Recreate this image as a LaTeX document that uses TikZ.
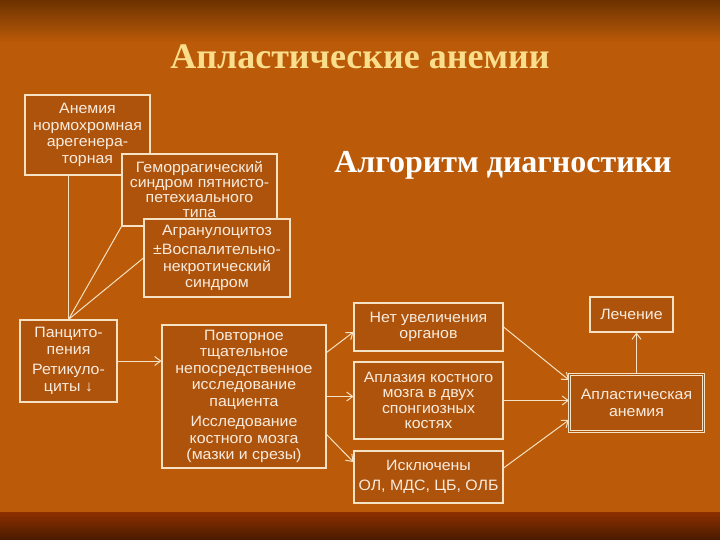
\documentclass[tikz,border=0pt]{standalone}
\usepackage{fontspec}
\usepackage{tikz}
\usetikzlibrary{arrows.meta}
\newfontfamily\boxfont[FakeStretch=1.06]{Liberation Sans}
\newfontfamily\headfont{Liberation Serif}

\definecolor{bgc}{RGB}{187,90,8}
\definecolor{boxc}{RGB}{174,83,12}
\definecolor{linec}{RGB}{245,226,196}
\definecolor{txtc}{RGB}{249,236,222}
\definecolor{titlec}{RGB}{250,222,140}

\tikzset{
  box/.style={draw=linec, fill=boxc, line width=1.1pt, inner sep=0pt, align=center,
    text=txtc, font=\boxfont\fontsize{15}{16.5}\selectfont},
  link/.style={draw=linec, line width=1pt},
  >={Straight Barb[length=6pt,width=9pt]}
}

\begin{document}
\begin{tikzpicture}[x=1pt,y=-1pt]
\useasboundingbox (0,0) rectangle (720,540);
\fill [bgc] (0,0) rectangle (720,540);
\shade [top color={rgb,255:red,108;green,50;blue,0}, bottom color=bgc] (0,0) rectangle (720,42);
\shade [top color={rgb,255:red,142;green,48;blue,0}, bottom color={rgb,255:red,72;green,26;blue,0}] (0,512) rectangle (720,540);
% headings
\node [text=titlec, font=\headfont\bfseries\fontsize{36}{38}\selectfont] (ttl) at (360,57) {Апластические анемии};
\node [text=white, font=\headfont\bfseries\fontsize{32}{34}\selectfont] (alg) at (503,165) {Алгоритм диагностики};
% left column
\node [box, minimum width=125pt, minimum height=80pt] (anm) at (87.5,135) {Анемия\\нормохромная\\арегенера-\\торная};
\node [box, font=\boxfont\fontsize{15}{15}\selectfont, minimum width=155pt, minimum height=72pt] (gem) at (199.5,190) {Геморрагический\\синдром пятнисто-\\петехиального\\типа};
\node [box, minimum width=146pt, minimum height=78pt] (agr) at (217,258) {Агранулоцитоз\\[3pt]±Воспалительно-\\некротический\\синдром};
\node [box, minimum width=97pt, minimum height=82pt] (pan) at (68.5,361) {Панцито-\\пения\\[4pt]Ретикуло-\\циты ↓};
\node [box, minimum width=164pt, minimum height=143pt] (rep) at (244,396.5) {Повторное\\тщательное\\непосредственное\\исследование\\пациента\\[4pt]Исследование\\костного мозга\\(мазки и срезы)};
% right part
\node [box, minimum width=149pt, minimum height=48pt] (net) at (428.5,327) {Нет увеличения\\органов};
\node [box, font=\boxfont\fontsize{15}{15.5}\selectfont, minimum width=149pt, minimum height=77pt] (apz) at (428.5,400.5) {Аплазия костного\\мозга в двух\\спонгиозных\\костях};
\node [box, minimum width=149pt, minimum height=52pt] (isk) at (428.5,477) {Исключены\\[3pt]ОЛ, МДС, ЦБ, ОЛБ};
\node [box, minimum width=83pt, minimum height=35pt] (lech) at (631.5,314.5) {Лечение};
\node [box, double=boxc, double distance=1.5pt, minimum width=134pt, minimum height=57pt] (aplan) at (636.5,403) {Апластическая\\анемия};
% connectors
\draw [link] (anm.south -| pan.north) -- (pan.north);
\draw [link] (gem.south west) -- (pan.north);
\draw [link] (agr.west) -- (pan.north);
\draw [link,->] (pan.east) -- (pan.east -| rep.west);
\draw [link,->] ([yshift=44pt]rep.east) -- ([yshift=-5pt]net.west);
\draw [link,->] (rep.east) -- (rep.east -| apz.west);
\draw [link,->] ([yshift=-38pt]rep.east) -- ([yshift=15pt]isk.west);
\draw [link,->] (net.east) -- ([yshift=23pt]aplan.west);
\draw [link,->] (apz.east) -- (apz.east -| aplan.west);
\draw [link,->] ([yshift=9pt]isk.east) -- ([yshift=-17pt]aplan.west);
\draw [link,->] (aplan.north) -- (aplan.north |- lech.south);
\end{tikzpicture}
\end{document}
